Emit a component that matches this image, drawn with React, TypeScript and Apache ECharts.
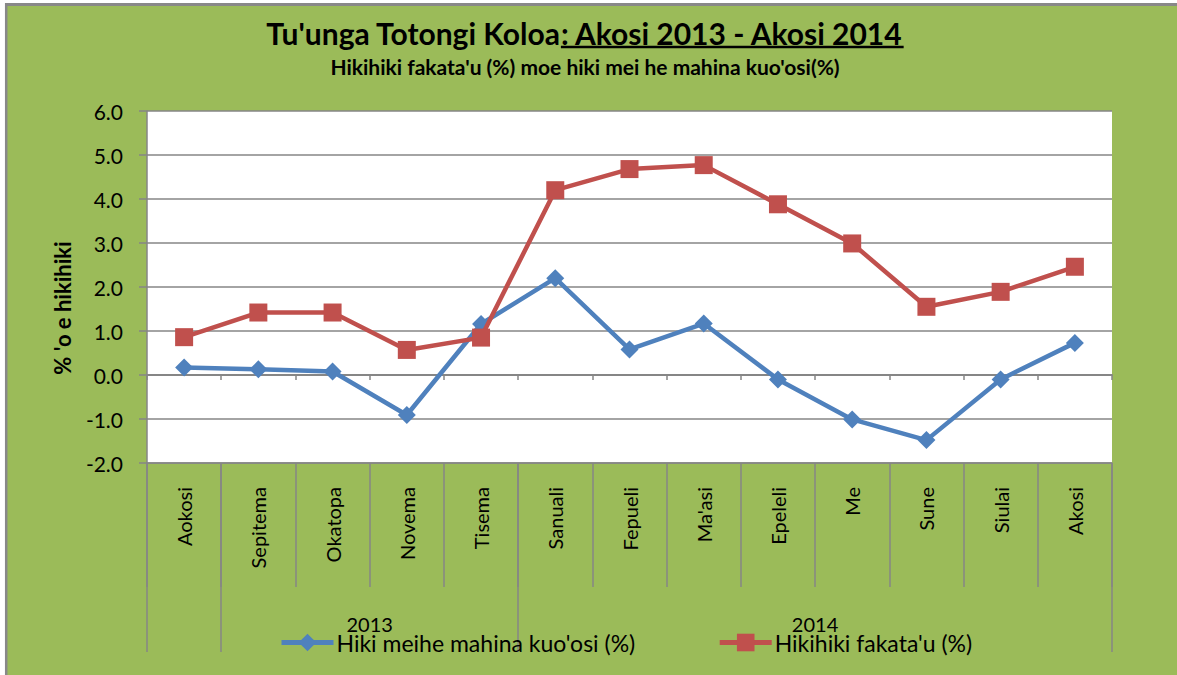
import React, { useEffect, useRef } from "react";
import * as echarts from "echarts";

const categories = ["Aokosi", "Sepitema", "Okatopa", "Novema", "Tisema", "Sanuali", "Fepueli", "Ma'asi", "Epeleli", "Me", "Sune", "Siulai", "Akosi"];
const monthlyChange = [0.17, 0.13, 0.08, -0.91, 1.16, 2.2, 0.58, 1.17, -0.1, -1.01, -1.48, -0.1, 0.73];
const annualChange = [0.86, 1.42, 1.42, 0.57, 0.85, 4.2, 4.68, 4.77, 3.88, 2.99, 1.55, 1.89, 2.46];
const seriesNames = ["Hiki meihe mahina kuo'osi (%)", "Hikihiki fakata'u (%)"];
const yearLabels = ["2013", "2014"];
const yearGroupBounds = [0, 1, 5, 13];
const yearGroupCenters = [3, 9];
const yTicks = { min: -2, max: 6, interval: 1 };

const titleA = "Tu'unga Totongi Koloa";
const titleB = ": Akosi 2013 - Akosi 2014";
const subtitle = "Hikihiki fakata'u (%) moe hiki mei he mahina kuo'osi(%)";
const yName = "% 'o e hikihiki";

const FONT = "Lato, 'Noto Sans', sans-serif";
const GREEN = "#9BBB59";
const GRAY = "#868686";

function measure(text: string, font: string): number {
  const c = document.createElement("canvas");
  const ctx = c.getContext("2d");
  if (!ctx) return text.length * 13;
  ctx.font = font;
  return ctx.measureText(text).width;
}

export default function App() {
  const ref = useRef<HTMLDivElement>(null);
  useEffect(() => {
    if (!ref.current) return;
    const chart = echarts.init(ref.current, undefined, { renderer: "svg" });
    const titleFontSize = 30;
    const tFont = `bold ${titleFontSize}px Lato`;
    const wA = measure(titleA, tFont);
    const wB = measure(titleB, tFont);
    const cx = 585;
    const startX = cx - (wA + wB) / 2;
    const titleY = 33;

    chart.setOption({
      animation: false,
      backgroundColor: GREEN,
      textStyle: { fontFamily: FONT },
      grid: {
        left: 147,
        top: 111,
        width: 965,
        height: 352,
        show: true,
        backgroundColor: "#ffffff",
        borderWidth: 0,
      },
      legend: {
        left: 274,
        top: 626,
        itemWidth: 52,
        itemHeight: 22,
        itemGap: 82,
        itemStyle: {},
        lineStyle: { width: 5 },
        textStyle: { fontSize: 23, color: "#000", fontFamily: FONT, padding: [0, 0, 0, -2] },
        data: seriesNames,
      },
      xAxis: [
        {
          type: "category",
          data: categories,
          boundaryGap: true,
          axisLine: { onZero: true, lineStyle: { color: GRAY, width: 2 } },
          axisTick: { show: true, length: 5, lineStyle: { color: GRAY, width: 1.5 } },
          axisLabel: { show: false },
          splitLine: { show: false },
        },
        {
          type: "category",
          data: categories,
          position: "bottom",
          boundaryGap: true,
          axisLine: { show: true, onZero: false, lineStyle: { color: GRAY, width: 1.5 } },
          axisTick: { show: true, length: 124, lineStyle: { color: GRAY, width: 1.5 } },
          axisLabel: {
            rotate: 90,
            margin: 24,
            fontSize: 20,
            color: "#000",
            fontFamily: FONT,
            interval: 0,
          },
          splitLine: { show: false },
        },
        {
          type: "value",
          position: "bottom",
          min: 0,
          max: categories.length,
          axisLine: { show: false, onZero: false },
          axisTick: {
            show: true,
            length: 189,
            customValues: yearGroupBounds,
            lineStyle: { color: GRAY, width: 1.5 },
          },
          axisLabel: {
            customValues: yearGroupCenters,
            formatter: (v: number) => yearLabels[yearGroupCenters.indexOf(v)] ?? "",
            margin: 151,
            fontSize: 20,
            color: "#000",
            fontFamily: FONT,
          },
          splitLine: { show: false },
        },
      ],
      yAxis: {
        type: "value",
        min: yTicks.min,
        max: yTicks.max,
        interval: yTicks.interval,
        axisLine: { show: true, lineStyle: { color: GRAY, width: 1.5 } },
        axisTick: { show: true, length: 8, lineStyle: { color: GRAY, width: 1.5 } },
        axisLabel: {
          formatter: (v: number) => v.toFixed(1),
          fontSize: 21,
          color: "#000",
          fontFamily: FONT,
          margin: 24,
        },
        splitLine: { show: true, lineStyle: { color: GRAY, width: 1.5 } },
      },
      series: [
        {
          name: seriesNames[0],
          type: "line",
          xAxisIndex: 0,
          data: monthlyChange,
          symbol: "diamond",
          symbolSize: 18,
          color: "#4F81BD",
          lineStyle: { width: 4.5, color: "#4F81BD" },
          itemStyle: { color: "#4F81BD" },
          z: 3,
        },
        {
          name: seriesNames[1],
          type: "line",
          xAxisIndex: 0,
          data: annualChange,
          symbol: "rect",
          symbolSize: 18,
          color: "#C0504D",
          lineStyle: { width: 4.5, color: "#C0504D" },
          itemStyle: { color: "#C0504D" },
          z: 4,
        },
      ],
      graphic: [
        { type: "rect", silent: true, shape: { x: 0, y: 0, width: 1177, height: 3 }, style: { fill: "#fff" } },
        { type: "rect", silent: true, shape: { x: 0, y: 0, width: 5, height: 675 }, style: { fill: "#fff" } },
        { type: "line", silent: true, shape: { x1: 5, y1: 4.5, x2: 1177, y2: 4.5 }, style: { stroke: "#888", lineWidth: 3 } },
        { type: "line", silent: true, shape: { x1: 6.2, y1: 3, x2: 6.2, y2: 675 }, style: { stroke: "#888", lineWidth: 2.5 } },
        {
          type: "text",
          x: startX,
          y: titleY,
          style: {
            text: titleA,
            font: tFont,
            fill: "#000",
            textAlign: "left",
            verticalAlign: "middle",
          },
        },
        {
          type: "text",
          x: startX + wA,
          y: titleY,
          style: {
            text: titleB,
            font: tFont,
            fill: "#000",
            textAlign: "left",
            verticalAlign: "middle",
          },
        },
        {
          type: "line",
          silent: true,
          shape: { x1: startX + wA, y1: titleY + 14, x2: startX + wA + wB, y2: titleY + 14 },
          style: { stroke: "#000", lineWidth: 2.5 },
        },
        {
          type: "text",
          x: cx,
          y: 66,
          style: {
            text: subtitle,
            font: `bold 21px Lato`,
            fill: "#000",
            textAlign: "center",
            verticalAlign: "middle",
          },
        },
        {
          type: "text",
          x: 62,
          y: 308,
          rotation: Math.PI / 2,
          style: {
            text: yName,
            font: `bold 22px Lato`,
            fill: "#000",
            textAlign: "center",
            verticalAlign: "middle",
          },
        },
      ],
    });
    return () => chart.dispose();
  }, []);
  return (
    <div
      ref={ref}
      style={{ position: "fixed", left: 0, top: 0, width: 1177, height: 675 }}
    />
  );
}
